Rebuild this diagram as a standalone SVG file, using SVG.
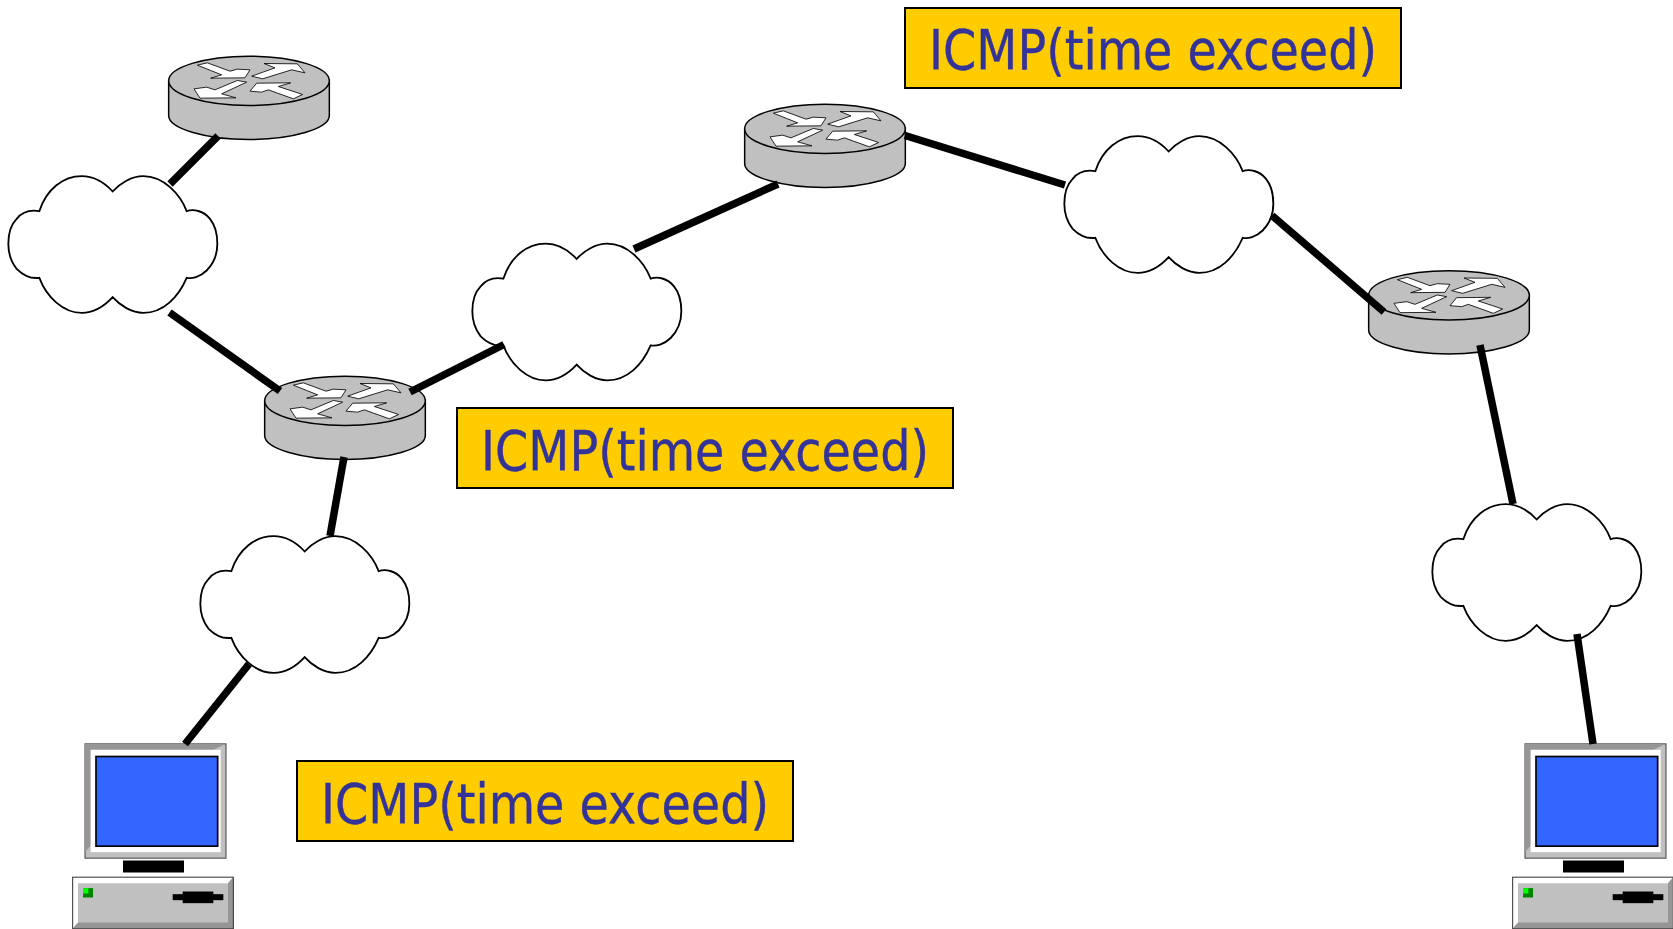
<svg xmlns="http://www.w3.org/2000/svg" width="1673" height="929" viewBox="0 0 1673 929">
<style>
.lbl{fill:#fc0;stroke:#000;stroke-width:2}
.txt{font-family:"DejaVu Sans","Liberation Sans",sans-serif;font-size:56px;fill:#333399;stroke:#333399;stroke-width:.4}
.conn line{stroke:#000;stroke-width:7.500}
.cloud{fill:#fff;stroke:#000;stroke-width:5.500}
.rb{fill:#c0c0c0;stroke:#000;stroke-width:4.500}
.ra{fill:#fff;stroke:#000;stroke-width:2.500}
</style>
<defs>
<g id="r">
<g transform="translate(150,40.500) scale(.33333)">
<path class="rb" d="M56,120V225C56,265 170,297 296,297C425,297 538,265 538,225V120Z"/>
<ellipse class="rb" cx="297" cy="121" rx="241" ry="74"/>
<path class="ra" d="M142,74L172,67L240,92L262,86L300,88L285,112L182,113L215,103Z"/>
<path class="ra" d="M305,107L375,82L342,69L442,70L465,97L425,88L338,115Z"/>
<path class="ra" d="M132,145L150,173L258,172L215,160L290,125L262,120L195,148L170,140Z"/>
<path class="ra" d="M300,152L320,128L422,127L385,138L458,162L430,175L355,148L335,155Z"/>
</g>
</g>
<path id="c" class="cloud" transform="scale(.33333)" d="M118,152C140,85 190,47 245,47C285,47 315,68 338,93C360,68 395,47 430,47C490,47 540,100 560,152C580,145 610,150 630,175C648,197 652,225 652,250C652,280 640,310 620,330C600,350 575,355 560,352C535,410 490,457 430,457C395,457 360,435 338,410C315,435 285,457 245,457C190,457 140,410 118,352C95,355 70,345 50,325C30,300 25,275 25,250C25,220 30,195 50,175C70,150 95,148 118,152Z"/>
<g id="pc">
<g transform="translate(60,730.500) scale(.33333)">
<rect x="75" y="40" width="423" height="343" fill="#c0c0c0" stroke="#404040" stroke-width="3"/>
<path d="M75,40H498L460,58H92V345L75,365Z" fill="#969696"/>
<rect x="92" y="58" width="390" height="307" fill="#fff"/>
<rect x="108" y="78" width="365" height="269" fill="#3366ff" stroke="#000" stroke-width="5"/>
<rect x="189" y="390" width="183" height="36" fill="#000"/>
<rect x="38" y="440" width="482" height="155" fill="#c0c0c0"/>
<path d="M38,440H520L504,458H54V576L38,595Z" fill="#fff"/>
<path d="M520,440V595H38L54,576H504V458Z" fill="#969696"/>
<rect x="38" y="440" width="482" height="155" fill="none" stroke="#333" stroke-width="3"/>
<rect x="69" y="473" width="30" height="28" fill="#008000"/>
<rect x="69" y="473" width="16" height="16" fill="#00ff00"/>
<rect x="338" y="491" width="152" height="18" fill="#000"/>
<rect x="368" y="483" width="92" height="35" fill="#000"/>
</g>
</g>
</defs>
<g id="router1"><use href="#r"/></g>
<g id="router2"><use href="#r" x="96" y="320"/></g>
<g id="router3"><use href="#r" x="576" y="48"/></g>
<g id="router4"><use href="#r" x="1200" y="214.500"/></g>
<g id="cloud1"><use href="#c" x="0" y="160.500"/></g>
<g id="cloud2"><use href="#c" x="464" y="228"/></g>
<g id="cloud3"><use href="#c" x="1056" y="120.500"/></g>
<g id="cloud4"><use href="#c" x="1424" y="488.500"/></g>
<g id="cloud5"><use href="#c" x="192" y="520.500"/></g>
<g id="pc1"><use href="#pc"/></g>
<g id="pc2"><use href="#pc" x="1440"/></g>
<g id="connectors" class="conn">
<line x1="218" y1="136" x2="170" y2="184"/>
<line x1="169.500" y1="312.500" x2="280" y2="391"/>
<line x1="410" y1="392" x2="504" y2="344.500"/>
<line x1="344" y1="457" x2="330" y2="536"/>
<line x1="249" y1="664" x2="185" y2="744"/>
<line x1="634" y1="249" x2="778" y2="184"/>
<line x1="905" y1="135.500" x2="1065" y2="185"/>
<line x1="1272" y1="215.500" x2="1384" y2="312"/>
<line x1="1480" y1="345" x2="1513" y2="504"/>
<line x1="1577" y1="634" x2="1593" y2="744"/>
</g>
<g id="label1"><rect class="lbl" x="905" y="8" width="496" height="80"/><text class="txt" x="929" y="69" textLength="448" lengthAdjust="spacingAndGlyphs">ICMP(time exceed)</text></g>
<g id="label2"><rect class="lbl" x="457" y="408" width="496" height="80"/><text class="txt" x="481" y="469.500" textLength="448" lengthAdjust="spacingAndGlyphs">ICMP(time exceed)</text></g>
<g id="label3"><rect class="lbl" x="297" y="761" width="496" height="80"/><text class="txt" x="321" y="822.500" textLength="448" lengthAdjust="spacingAndGlyphs">ICMP(time exceed)</text></g>
</svg>
